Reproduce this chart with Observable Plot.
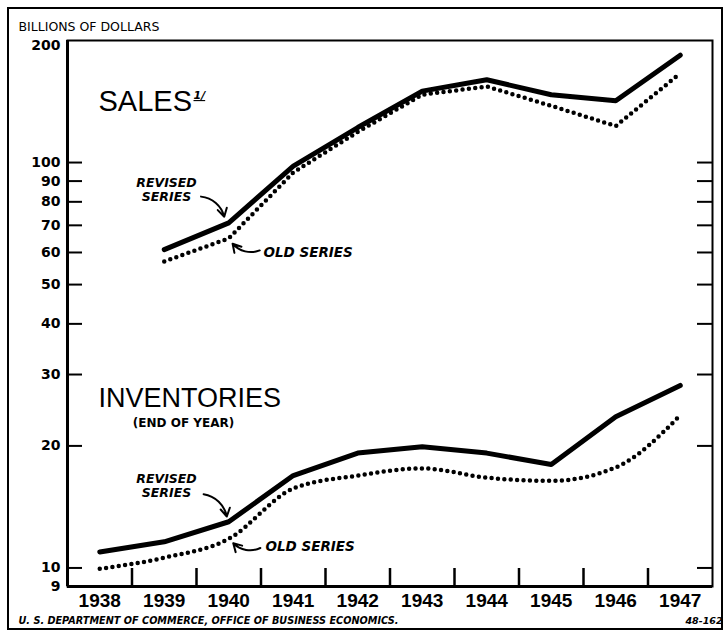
<!DOCTYPE html>
<html>
<head>
<meta charset="utf-8">
<script src="https://cdn.jsdelivr.net/npm/d3@7"></script>
<script src="https://cdn.jsdelivr.net/npm/@observablehq/plot@0.6"></script>
<style>
  html, body { margin: 0; padding: 0; background: white; }
  #chart svg { display: block; }
</style>
</head>
<body>
<div id="chart"></div>
<script>
// ---- Data (billions of dollars, log scale) ----
const years = [1938, 1939, 1940, 1941, 1942, 1943, 1944, 1945, 1946, 1947];
const salesYears = [1939, 1940, 1941, 1942, 1943, 1944, 1945, 1946, 1947];
const salesRevised = [61, 71, 98, 122, 150, 160, 147, 142, 184];
const salesOld = [57, 65, 94.5, 119, 147, 154, 138, 123, 166];
const invRevised = [10.95, 11.6, 13.0, 16.9, 19.2, 19.9, 19.2, 18.0, 23.6, 28.2];
const invOld = [9.95, 10.6, 11.8, 15.7, 16.9, 17.6, 16.7, 16.4, 17.7, 23.8];

const yTickValues = [10, 20, 30, 40, 50, 60, 70, 80, 90, 100];
const yLabelValues = [9, 10, 20, 30, 40, 50, 60, 70, 80, 90, 100];
const yTopLabel = 200;
const xTickValues = [1938.5, 1939.5, 1940.5, 1941.5, 1942.5, 1943.5, 1944.5, 1945.5, 1946.5];

const unitLabel = "BILLIONS OF DOLLARS";
const sourceLabel = "U. S. DEPARTMENT OF COMMERCE, OFFICE OF BUSINESS ECONOMICS.";
const chartCode = "48-162";

// ---- Tables built from the arrays ----
const salesRevTable = salesYears.map((y, i) => ({year: y, value: salesRevised[i]}));
const salesOldTable = salesYears.map((y, i) => ({year: y, value: salesOld[i]}));
const invRevTable = years.map((y, i) => ({year: y, value: invRevised[i]}));
const invOldTable = years.map((y, i) => ({year: y, value: invOld[i]}));

// annotation arrows: tip near the 1940 points
const arrows = [
  {x1: 1939.57, y1: 82.4, x2: 1939.93, y2: salesRevised[1] * 1.035},
  {x1: 1940.48, y1: 60.7, x2: 1940.06, y2: salesOld[1] * 0.97},
  {x1: 1939.61, y1: 15.2, x2: 1939.97, y2: invRevised[2] * 1.03},
  {x1: 1940.49, y1: 11.2, x2: 1940.07, y2: invOld[2] * 0.975}
];

const font = "DejaVu Sans";
const plotW = 725 - 67 - 13;
const plotH = 631 - 40 - 45;
const noteStyle = {fontSize: 12.5, fontStyle: "italic", fontWeight: "bold", fontFamily: font};

const chart = Plot.plot({
  width: 725,
  height: 631,
  marginLeft: 67,
  marginRight: 13,
  marginTop: 40,
  marginBottom: 45,
  style: {background: "white", color: "black", fontFamily: font},
  x: {domain: [1937.5, 1947.5], axis: null},
  y: {type: "log", domain: [9, 200], axis: null},
  marks: [
    Plot.frame({stroke: "black", strokeWidth: 2}),
    Plot.ruleX([1937.5], {stroke: "black", strokeWidth: 3}),
    Plot.ruleY([9], {stroke: "black", strokeWidth: 3}),
    Plot.tickX(xTickValues, {x: d => d, insetTop: plotH - 18, strokeWidth: 2.5}),
    Plot.tickY(yTickValues, {y: d => d, insetRight: plotW - 15, strokeWidth: 2}),
    Plot.tickY(yTickValues, {y: d => d, insetLeft: plotW - 15, strokeWidth: 2}),
    Plot.text(yLabelValues, {y: d => d, text: d => String(d), frameAnchor: "left", textAnchor: "end", dx: -7, fontSize: 14, fontWeight: "bold", fontFamily: font}),
    Plot.text([yTopLabel], {y: d => d, text: d => String(d), frameAnchor: "left", textAnchor: "end", dx: -7, dy: 5, fontSize: 14, fontWeight: "bold", fontFamily: font}),
    Plot.text(years, {x: d => d, text: d => String(d), frameAnchor: "bottom", lineAnchor: "top", dy: 7, fontSize: 19, fontWeight: "bold", fontFamily: "Liberation Sans"}),
    // series
    Plot.line(salesRevTable, {x: "year", y: "value", stroke: "black", strokeWidth: 5, strokeLinejoin: "round", strokeLinecap: "round"}),
    Plot.line(salesOldTable, {x: "year", y: "value", stroke: "black", strokeWidth: 4.5, strokeDasharray: "0 6.4", strokeLinecap: "round"}),
    Plot.line(invRevTable, {x: "year", y: "value", stroke: "black", strokeWidth: 5, strokeLinejoin: "round", strokeLinecap: "round"}),
    Plot.line(invOldTable, {x: "year", y: "value", stroke: "black", strokeWidth: 4.5, strokeDasharray: "0 6.4", strokeLinecap: "round", curve: "monotone-x"}),
    // arrows
    Plot.arrow(arrows, {x1: "x1", y1: "y1", x2: "x2", y2: "y2", bend: 35, stroke: "black", strokeWidth: 2, headLength: 7}),
    // titles / annotations
    Plot.text([unitLabel], {frameAnchor: "top-left", dx: -49, dy: -14, textAnchor: "start", lineAnchor: "middle", fontSize: 12.5, fontFamily: font}),
    Plot.text(["SALES"], {frameAnchor: "top-left", dx: 31, dy: 61, textAnchor: "start", lineAnchor: "middle", fontSize: 29, fontFamily: "Liberation Sans"}),
    Plot.text(["1/"], {frameAnchor: "top-left", dx: 126, dy: 55, textAnchor: "start", lineAnchor: "middle", fontSize: 11, fontStyle: "italic", fontWeight: "bold", fontFamily: font}),
    Plot.text(["REVISED"], {frameAnchor: "top-left", dx: 99, dy: 142, textAnchor: "middle", lineAnchor: "middle", ...noteStyle}),
    Plot.text(["SERIES"], {frameAnchor: "top-left", dx: 99, dy: 156.5, textAnchor: "middle", lineAnchor: "middle", ...noteStyle}),
    Plot.text(["OLD SERIES"], {frameAnchor: "top-left", dx: 196, dy: 212, textAnchor: "start", lineAnchor: "middle", ...noteStyle, fontSize: 13.5}),
    Plot.text(["INVENTORIES"], {frameAnchor: "top-left", dx: 31, dy: 358, textAnchor: "start", lineAnchor: "middle", fontSize: 27, fontFamily: "Liberation Sans"}),
    Plot.text(["(END OF YEAR)"], {frameAnchor: "top-left", dx: 116, dy: 383, textAnchor: "middle", lineAnchor: "middle", fontSize: 12, fontWeight: "bold", fontFamily: font}),
    Plot.text(["REVISED"], {frameAnchor: "top-left", dx: 99, dy: 438, textAnchor: "middle", lineAnchor: "middle", ...noteStyle}),
    Plot.text(["SERIES"], {frameAnchor: "top-left", dx: 99, dy: 452.5, textAnchor: "middle", lineAnchor: "middle", ...noteStyle}),
    Plot.text(["OLD SERIES"], {frameAnchor: "top-left", dx: 198, dy: 506, textAnchor: "start", lineAnchor: "middle", ...noteStyle, fontSize: 13.5}),
    Plot.text([sourceLabel], {frameAnchor: "bottom-left", dx: -49, dy: 34, textAnchor: "start", lineAnchor: "middle", fontSize: 9.7, fontStyle: "italic", fontWeight: "bold", fontFamily: font}),
    Plot.text([chartCode], {frameAnchor: "bottom-right", dx: 10, dy: 34, textAnchor: "end", lineAnchor: "middle", fontSize: 9.5, fontStyle: "italic", fontWeight: "bold", fontFamily: font})
  ]
});

// underline the footnote marker
chart.querySelectorAll("text").forEach(t => {
  if (t.textContent === "1/") t.setAttribute("text-decoration", "underline");
});
// outer border of the exhibit
const ns = "http://www.w3.org/2000/svg";
const border = document.createElementNS(ns, "rect");
border.setAttribute("x", 8); border.setAttribute("y", 8);
border.setAttribute("width", 714); border.setAttribute("height", 621);
border.setAttribute("fill", "none"); border.setAttribute("stroke", "black"); border.setAttribute("stroke-width", 2);
chart.appendChild(border);

document.getElementById("chart").appendChild(chart);
</script>
</body>
</html>
